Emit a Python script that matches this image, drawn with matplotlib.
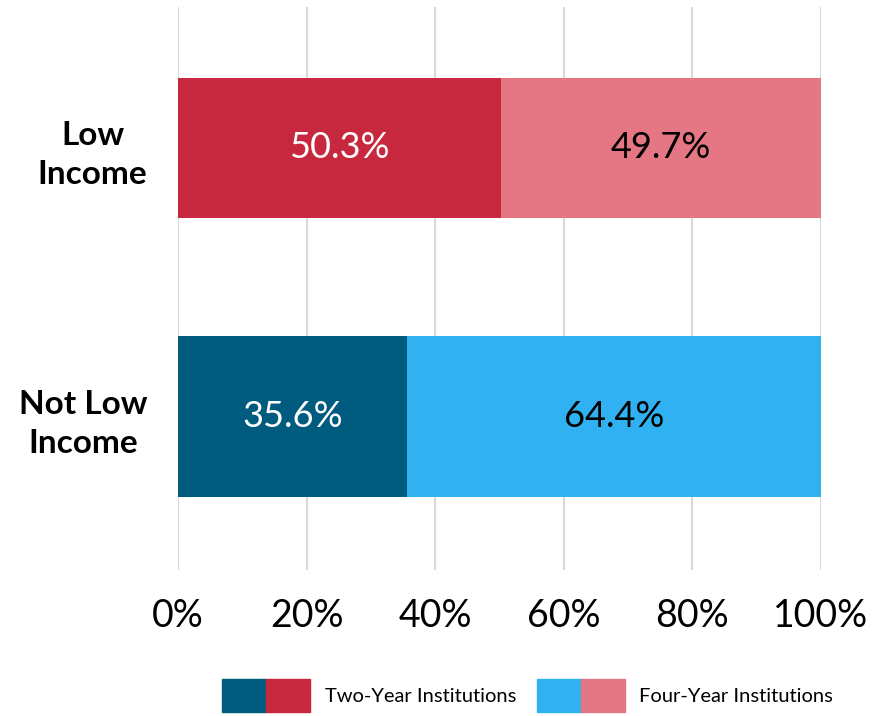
import matplotlib
matplotlib.use('Agg')
import matplotlib.pyplot as plt
from matplotlib.patches import Patch
from matplotlib.legend_handler import HandlerTuple

# shares of students by institution type
groups = ['Low\nIncome', 'Not Low\nIncome']
two_year = [50.3, 35.6]
four_year = [49.7, 64.4]
xticks = [0, 20, 40, 60, 80, 100]

two_colors = ['#C8283E', '#005C7E']
four_colors = ['#E57785', '#30B1F2']
two_text = ['white', 'white']
four_text = ['black', 'black']

plt.rcParams['font.family'] = ['Lato', 'DejaVu Sans']

fig = plt.figure(figsize=(8.87, 7.16), dpi=100)
ax = fig.add_axes([178/887, 146/716, 643/887, 563/716])

ypos = [0, 1]
heights = [0.52, 0.60]

ax.barh(ypos, two_year, height=heights, color=two_colors, zorder=2)
ax.barh(ypos, four_year, left=two_year, height=heights, color=four_colors, zorder=2)

for i in range(len(groups)):
    ax.text(two_year[i]/2, ypos[i], '%.1f%%' % two_year[i], ha='center', va='center',
            color=two_text[i], fontsize=26, zorder=3)
    ax.text(two_year[i] + four_year[i]/2, ypos[i], '%.1f%%' % four_year[i], ha='center',
            va='center', color=four_text[i], fontsize=26, zorder=3)

ax.set_xlim(0, 100)
ax.set_ylim(1.572, -0.525)
ax.set_xticks(xticks)
ax.set_xticklabels(['%d%%' % t for t in xticks], fontsize=27)
ax.set_yticks(ypos)
ax.set_yticklabels(groups, fontsize=24, fontweight='bold', multialignment='center',
                   linespacing=1.4)
ax.tick_params(length=0)
ax.tick_params(axis='x', pad=20)
ax.tick_params(axis='y', pad=22)
ax.xaxis.grid(True, color='#D9D9D9', linewidth=1.5, zorder=0)
ax.set_axisbelow(True)
for s in ax.spines.values():
    s.set_visible(False)

handles = [(Patch(color=two_colors[1]), Patch(color=two_colors[0])),
           (Patch(color=four_colors[1]), Patch(color=four_colors[0]))]
fig.legend(handles, ['Two-Year Institutions', 'Four-Year Institutions'],
           handler_map={tuple: HandlerTuple(ndivide=None, pad=0)},
           loc='lower center', bbox_to_anchor=(0.595, -0.008), ncol=2, frameon=False,
           fontsize=14.5, handlelength=4.37, handleheight=2.14, handletextpad=0.7,
           columnspacing=1.05, borderpad=0)

fig.savefig('out.png', dpi=100)
